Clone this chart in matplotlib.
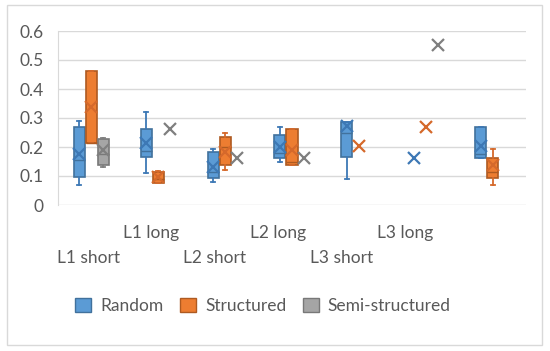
import numpy as np
import matplotlib
matplotlib.use("Agg")
import matplotlib.pyplot as plt
from matplotlib.patches import Patch, Rectangle
from matplotlib.transforms import blended_transform_factory

plt.rcParams['font.family'] = ['Lato', 'DejaVu Sans']

categories = ["L1 short", "L1 long", "L2 short", "L2 long", "L3 short", "L3 long", ""]
series = ["Random", "Structured", "Semi-structured"]

# per series: whisker low, Q1, median, Q3, whisker high, mean (None = no box)
rand_lo   = [0.069, 0.111, 0.080, 0.149, 0.088, None, 0.161]
rand_q1   = [0.098, 0.164, 0.094, 0.161, 0.167, None, 0.161]
rand_med  = [0.155, 0.187, 0.115, 0.180, 0.247, None, 0.175]
rand_q3   = [0.270, 0.261, 0.182, 0.241, 0.287, None, 0.270]
rand_hi   = [0.290, 0.322, 0.192, 0.270, 0.287, None, 0.270]
rand_mean = [0.176, 0.213, 0.132, 0.201, 0.274, 0.161, 0.205]

str_lo    = [0.213, 0.075, 0.121, 0.138, None, None, 0.069]
str_q1    = [0.213, 0.077, 0.138, 0.138, None, None, 0.094]
str_med   = [0.213, 0.090, 0.200, 0.149, None, None, 0.115]
str_q3    = [0.462, 0.115, 0.236, 0.262, None, None, 0.161]
str_hi    = [0.462, 0.117, 0.249, 0.262, None, None, 0.192]
str_mean  = [0.339, 0.096, 0.182, 0.190, 0.203, 0.270, 0.138]

semi_lo   = [0.130, None, None, None, None, None, None]
semi_q1   = [0.138, None, None, None, None, None, None]
semi_med  = [0.175, None, None, None, None, None, None]
semi_q3   = [0.228, None, None, None, None, None, None]
semi_hi   = [0.232, None, None, None, None, None, None]
semi_mean = [0.190, 0.261, 0.161, 0.161, None, 0.552, None]

yticks = [0, 0.1, 0.2, 0.3, 0.4, 0.5, 0.6]
ytick_labels = ["0", "0.1", "0.2", "0.3", "0.4", "0.5", "0.6"]

fills = ["#5B9BD5", "#ED7D31", "#A5A5A5"]
edges = ["#41719C", "#AE5A21", "#787878"]
xcols = ["#3D78B5", "#D5692B", "#7F7F7F"]

data = [
    (rand_lo, rand_q1, rand_med, rand_q3, rand_hi, rand_mean),
    (str_lo, str_q1, str_med, str_q3, str_hi, str_mean),
    (semi_lo, semi_q1, semi_med, semi_q3, semi_hi, semi_mean),
]

FS = 12.5
fig = plt.figure(figsize=(5.5, 3.51), dpi=100)
fig.patches.append(Rectangle((7/550, 1-345/351), 535/550, 340/351, transform=fig.transFigure,
                             fill=False, edgecolor="#D9D9D9", linewidth=1.0))
ax = fig.add_axes([58/550, 1-205/351, 468/550, 174/351])

offsets = [-0.18, 0.0, 0.18]
width = 0.165
n = len(categories)
for s, (lo, q1, med, q3, hi, mean) in enumerate(data):
    stats, pos = [], []
    for i in range(n):
        if q1[i] is not None:
            stats.append(dict(whislo=lo[i], q1=q1[i], med=med[i], q3=q3[i], whishi=hi[i], fliers=[]))
            pos.append(i + offsets[s])
    if stats:
        ax.bxp(stats, positions=pos, widths=width, patch_artist=True, showfliers=False,
               showcaps=True, capwidths=0.06,
               boxprops=dict(facecolor=fills[s], edgecolor=edges[s], linewidth=1.2),
               medianprops=dict(color=edges[s], linewidth=1.0),
               whiskerprops=dict(color=xcols[s], linewidth=1.3),
               capprops=dict(color=xcols[s], linewidth=1.3), zorder=3)
    mx = [i + offsets[s] for i in range(n) if mean[i] is not None]
    my = [m for m in mean if m is not None]
    ax.plot(mx, my, linestyle="none", marker="x", markersize=8.5, markeredgewidth=1.6,
            color=xcols[s], zorder=4)

ax.set_xlim(-0.5, n - 0.5)
ax.set_ylim(0, 0.6)
ax.set_yticks(yticks)
ax.set_yticklabels(ytick_labels)
ax.yaxis.grid(True, color="#D9D9D9", linewidth=1.0)
ax.set_axisbelow(True)
ax.set_xticks([])
for sp in ["top", "right", "bottom"]:
    ax.spines[sp].set_visible(False)
ax.spines["left"].set_color("#D9D9D9")
ax.tick_params(axis="y", length=0, pad=10.5, labelsize=FS, labelcolor="#595959")

trans = blended_transform_factory(ax.transData, fig.transFigure)
for k, lab in enumerate(categories):
    if not lab:
        continue
    x = k * 0.948 - 0.05
    y = 1 - (258 if k % 2 == 0 else 233) / 351
    ax.text(x, y, lab, transform=trans, ha="center", va="center",
            fontsize=FS, color="#595959")

handles = [Patch(facecolor=fills[s], edgecolor=edges[s], linewidth=1.0) for s in range(3)]
fig.legend(handles, series, loc="center", bbox_to_anchor=(263/550, 1-306/351), ncol=3,
           frameon=False, fontsize=FS, handlelength=0.92, handleheight=0.92,
           handletextpad=0.52, columnspacing=0.95, labelcolor="#595959")

fig.savefig("out.png", dpi=100)
